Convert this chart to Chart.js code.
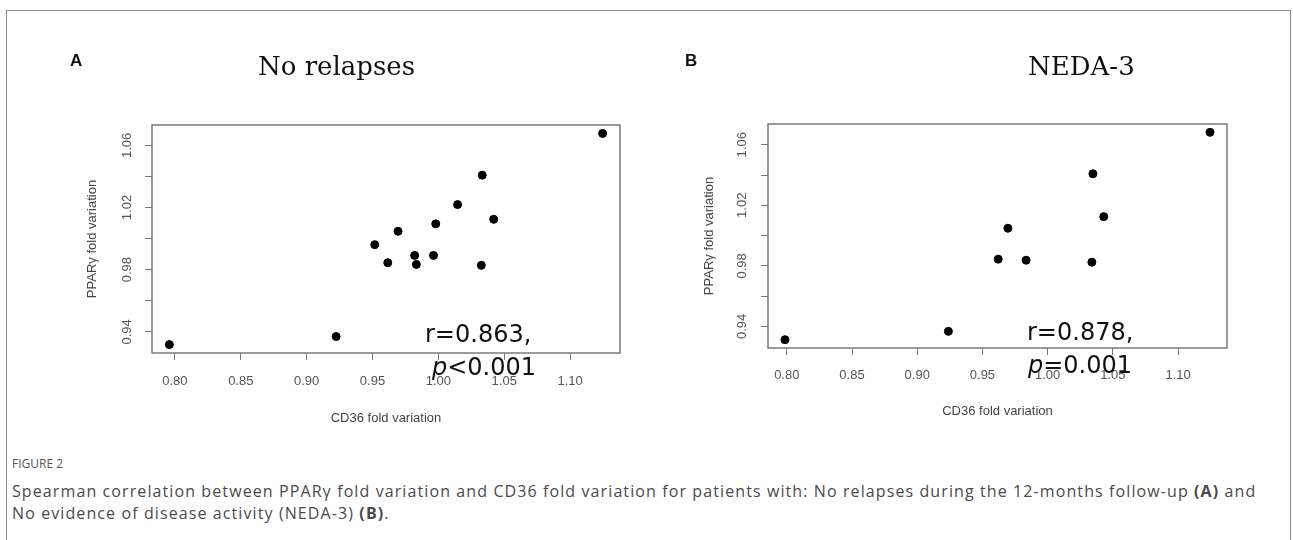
<!DOCTYPE html>
<html>
<head>
<meta charset="utf-8">
<script src="https://cdn.jsdelivr.net/npm/chart.js@4.4.1/dist/chart.umd.min.js"></script>
<style>
  html, body { margin: 0; padding: 0; background: #fff; }
  body { width: 1293px; height: 540px; position: relative; overflow: hidden; font-family: "Liberation Sans", Arial, sans-serif; }
  .frame { position: absolute; left: 6px; top: 10px; width: 1283px; height: 600px; border: 1.5px solid #8c8c8c; }
  canvas { position: absolute; top: 0; }
  .letter { position: absolute; font: bold 17px "Liberation Sans", Arial, sans-serif; color: #111; }
  .title { position: absolute; font: 26px/26px "DejaVu Serif", serif; color: #111; white-space: nowrap; }
  .stat { position: absolute; font: 24px/33px "DejaVu Sans", sans-serif; color: #111; white-space: nowrap; }
  .fig { position: absolute; left: 12px; top: 455px; font: 12px "Open Sans", sans-serif; color: #555; }
  .cap { position: absolute; left: 12px; top: 480px; font: 16px/22px "Open Sans", sans-serif; letter-spacing: 1.1px; color: #4a4a4a; white-space: nowrap; }
</style>
</head>
<body>
<div class="frame"></div>
<canvas id="chartA" width="645" height="440" style="left:0"></canvas>
<canvas id="chartB" width="648" height="440" style="left:645px"></canvas>

<div class="letter" style="left:70px; top:51px">A</div>
<div class="letter" style="left:685px; top:51px">B</div>
<div class="title" style="left:258px; top:53px">No relapses</div>
<div class="title" style="left:1028px; top:53px">NEDA-3</div>

<div class="stat" style="left:425px; top:318px">r=0.863,</div>
<div class="stat" style="left:432px; top:351px"><i>p</i>&lt;0.001</div>
<div class="stat" style="left:1027px; top:316px">r=0.878,</div>
<div class="stat" style="left:1028px; top:349px"><i>p</i>=0.001</div>

<div class="fig">FIGURE 2</div>
<div class="cap">Spearman correlation between PPARγ fold variation and CD36 fold variation for patients with: No relapses during the 12-months follow-up <b>(A)</b> and<br>No evidence of disease activity (NEDA-3) <b>(B)</b>.</div>

<script>
// panel A: no relapses
const cd36A = [1.1247, 1.0333, 1.0146, 1.0420, 0.9980, 0.9694, 0.9517, 0.9820, 0.9963, 0.9616, 0.9833, 1.0326, 0.9224, 0.7958];
const ppargA = [1.0677, 1.0408, 1.0219, 1.0124, 1.0095, 1.0047, 0.9961, 0.9892, 0.9892, 0.9845, 0.9834, 0.9828, 0.9370, 0.9318];

// panel B: NEDA-3
const cd36B = [1.1245, 1.0347, 1.0430, 0.9695, 0.9621, 0.9835, 1.0339, 0.9239, 0.7986];
const ppargB = [1.0682, 1.0408, 1.0125, 1.0048, 0.9844, 0.9837, 0.9824, 0.9367, 0.9312];

// axes (R style: labels only on every other y tick)
const xTicks = [0.80, 0.85, 0.90, 0.95, 1.00, 1.05, 1.10];
const yTicks = [0.94, 0.96, 0.98, 1.00, 1.02, 1.04, 1.06];
const yLabels = ['0.94', '', '0.98', '', '1.02', '', '1.06'];

const tickFont = { family: '"Liberation Sans", Arial, sans-serif', size: 13 };
const tickColor = '#555';

const boxPlugin = {
  id: 'box',
  afterDraw(chart) {
    const { ctx, chartArea: a } = chart;
    ctx.save();
    ctx.strokeStyle = '#7a7a7a';
    ctx.lineWidth = 1.5;
    ctx.strokeRect(a.left, a.top, a.right - a.left, a.bottom - a.top);
    ctx.restore();
  },
};

function scatter(id, xs, ys, cfg) {
  new Chart(document.getElementById(id), {
    type: 'scatter',
    data: {
      datasets: [{
        data: xs.map((x, i) => ({ x, y: ys[i] })),
        backgroundColor: '#000',
        borderColor: '#000',
        pointRadius: 4,
        pointHoverRadius: 4,
      }],
    },
    options: {
      responsive: false,
      animation: false,
      devicePixelRatio: 1,
      layout: { padding: cfg.padding },
      plugins: { legend: { display: false }, tooltip: { enabled: false } },
      scales: {
        x: {
          type: 'linear',
          min: cfg.xMin,
          max: cfg.xMax,
          afterBuildTicks: (s) => { s.ticks = xTicks.map((v) => ({ value: v })); },
          afterFit: (s) => { s.height = cfg.xHeight; },
          border: { display: false },
          grid: { drawOnChartArea: false, drawTicks: true, tickLength: 7, color: '#777' },
          ticks: {
            autoSkip: false, maxRotation: 0, padding: cfg.xPad, color: tickColor, font: tickFont,
            callback: (v) => v.toFixed(2),
          },
          title: {
            display: true, text: 'CD36 fold variation', color: '#444',
            font: tickFont, padding: { top: 0, bottom: cfg.xTitlePad },
          },
        },
        y: {
          type: 'linear',
          min: cfg.yMin,
          max: cfg.yMax,
          afterBuildTicks: (s) => { s.ticks = yTicks.map((v) => ({ value: v })); },
          afterFit: (s) => { s.width = cfg.yWidth; },
          border: { display: false },
          grid: { drawOnChartArea: false, drawTicks: true, tickLength: 7, color: '#777' },
          ticks: {
            autoSkip: false, minRotation: 90, maxRotation: 90, crossAlign: 'center',
            padding: cfg.yPad, color: tickColor, font: tickFont,
            callback: (v, i) => yLabels[i],
          },
          title: {
            display: true, text: 'PPARγ fold variation', color: '#444',
            font: tickFont, padding: { top: cfg.yTitlePad, bottom: 0 },
          },
        },
      },
    },
    plugins: [boxPlugin],
  });
}

scatter('chartA', cd36A, ppargA, {
  xMin: 0.7826, xMax: 1.1379, yMin: 0.9264, yMax: 1.0731,
  padding: { left: 80, top: 125, right: 25, bottom: 0 },
  xHeight: 87, yWidth: 72, xPad: 14, yPad: 5, xTitlePad: 14, yTitlePad: 5,
});

scatter('chartB', cd36B, ppargB, {
  xMin: 0.7856, xMax: 1.1375, yMin: 0.9257, yMax: 1.0737,
  padding: { left: 50, top: 124, right: 66, bottom: 0 },
  xHeight: 92, yWidth: 73, xPad: 13, yPad: 6, xTitlePad: 21, yTitlePad: 7,
});
</script>
</body>
</html>
